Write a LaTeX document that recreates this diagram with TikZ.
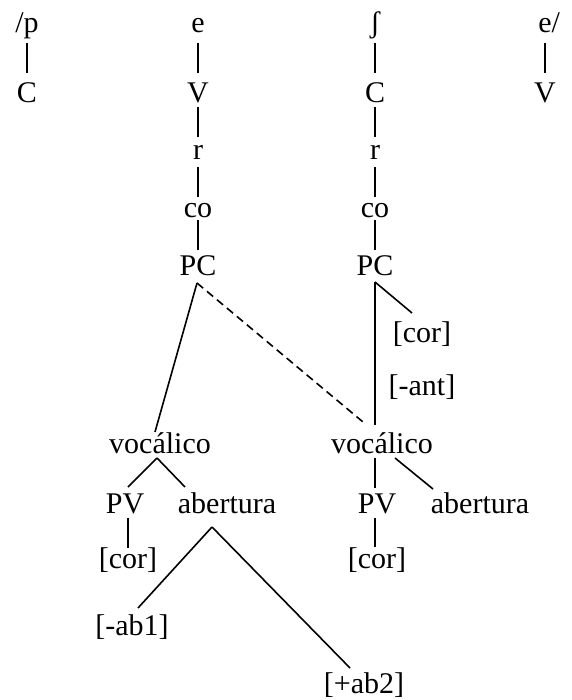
\documentclass[tikz,border=0pt]{standalone}
\usepackage{fontspec}
\setmainfont{Liberation Serif}
\begin{document}
\begin{tikzpicture}[x=1pt,y=-1pt,
  lbl/.style={anchor=base, inner sep=0pt, font=\fontsize{30}{36}\selectfont},
  edge/.style={line width=1.6pt},
  dashedge/.style={edge, dash pattern=on 8pt off 5pt}]
\useasboundingbox (0,0) rectangle (571,700);

% segmental tier
\node[lbl] (p)   at (27,33)  {/p};
\node[lbl] (c1)  at (27,103) {C};
\node[lbl] (e1)  at (198,33) {e};
\node[lbl] (v1)  at (198,103) {V};
\node[lbl] (r1)  at (198,160) {r};
\node[lbl] (co1) at (198,218) {co};
\node[lbl] (pc1) at (198,275) {PC};
\node[lbl] (sh)  at (375,33) {ʃ};
\node[lbl] (c2)  at (375,103) {C};
\node[lbl] (r2)  at (375,160) {r};
\node[lbl] (co2) at (375,218) {co};
\node[lbl] (pc2) at (375,275) {PC};
\node[lbl] (e2)  at (545,33) {e\rlap{/}};
\node[lbl] (v2)  at (545,103) {V};

% features under the fricative
\node[lbl] (cor0) at (422,342) {[cor]};
\node[lbl] (ant)  at (422,395) {[-ant]};

% left vocalic node
\node[lbl] (vocL) at (160,453) {vocálico};
\node[lbl] (pvL)  at (125,513) {PV};
\node[lbl] (abL)  at (227,513) {abertura};
\node[lbl] (corL) at (128,568) {[cor]};
\node[lbl] (ab1)  at (132,635) {[-ab1]};
\node[lbl] (ab2)  at (364,693) {[+ab2]};

% right vocalic node
\node[lbl] (vocR) at (382,453) {vocálico};
\node[lbl] (pvR)  at (377,513) {PV};
\node[lbl] (abR)  at (480,513) {abertura};
\node[lbl] (corR) at (377,568) {[cor]};

% skeletal links
\draw[edge] ([yshift=-10pt]p.base)  -- ([yshift=30pt]c1.base);
\draw[edge] ([yshift=-10pt]e1.base) -- ([yshift=30pt]v1.base);
\draw[edge] ([yshift=-10pt]sh.base) -- ([yshift=30pt]c2.base);
\draw[edge] ([yshift=-10pt]e2.base) -- ([yshift=30pt]v2.base);

% root / oral cavity / place columns
\draw[edge] ([yshift=-4pt]v1.base)  -- ([yshift=23pt]r1.base);
\draw[edge] ([yshift=-7pt]r1.base)  -- ([yshift=21pt]co1.base);
\draw[edge] ([yshift=-2pt]co1.base) -- ([yshift=25pt]pc1.base);
\draw[edge] ([yshift=-4pt]c2.base)  -- ([yshift=23pt]r2.base);
\draw[edge] ([yshift=-7pt]r2.base)  -- ([yshift=21pt]co2.base);
\draw[edge] ([yshift=-2pt]co2.base) -- ([yshift=25pt]pc2.base);

% PC branches
\draw[edge] ([xshift=-1pt,yshift=-8pt]pc1.base) -- ([xshift=-5pt,yshift=21pt]vocL.base);
\draw[dashedge] ([xshift=-1pt,yshift=-8pt]pc1.base) -- ([xshift=-19pt,yshift=31pt]vocR.base);
\draw[edge] ([yshift=-7pt]pc2.base) -- ([xshift=-7pt,yshift=28pt]vocR.base);
\draw[edge] ([yshift=-7pt]pc2.base) -- ([xshift=-10pt,yshift=29pt]cor0.base);

% left vocalic subtree
\draw[edge] ([xshift=-3pt,yshift=-5pt]vocL.base) -- ([xshift=3pt,yshift=26pt]pvL.base);
\draw[edge] ([xshift=-3pt,yshift=-5pt]vocL.base) -- ([xshift=-42pt,yshift=26pt]abL.base);
\draw[edge] ([xshift=3pt,yshift=-5pt]pvL.base)   -- ([yshift=20pt]corL.base);
\draw[edge] ([xshift=-15pt,yshift=-14pt]abL.base) -- ([xshift=6pt,yshift=27pt]ab1.base);
\draw[edge] ([xshift=-15pt,yshift=-14pt]abL.base) -- ([xshift=-14pt,yshift=25pt]ab2.base);

% right vocalic subtree
\draw[edge] ([xshift=-7pt,yshift=-5pt]vocR.base) -- ([xshift=-2pt,yshift=25pt]pvR.base);
\draw[edge] ([xshift=13pt,yshift=-5pt]vocR.base) -- ([xshift=-47pt,yshift=24pt]abR.base);
\draw[edge] ([xshift=-2pt,yshift=-5pt]pvR.base)  -- ([xshift=-2pt,yshift=21pt]corR.base);
\end{tikzpicture}
\end{document}
